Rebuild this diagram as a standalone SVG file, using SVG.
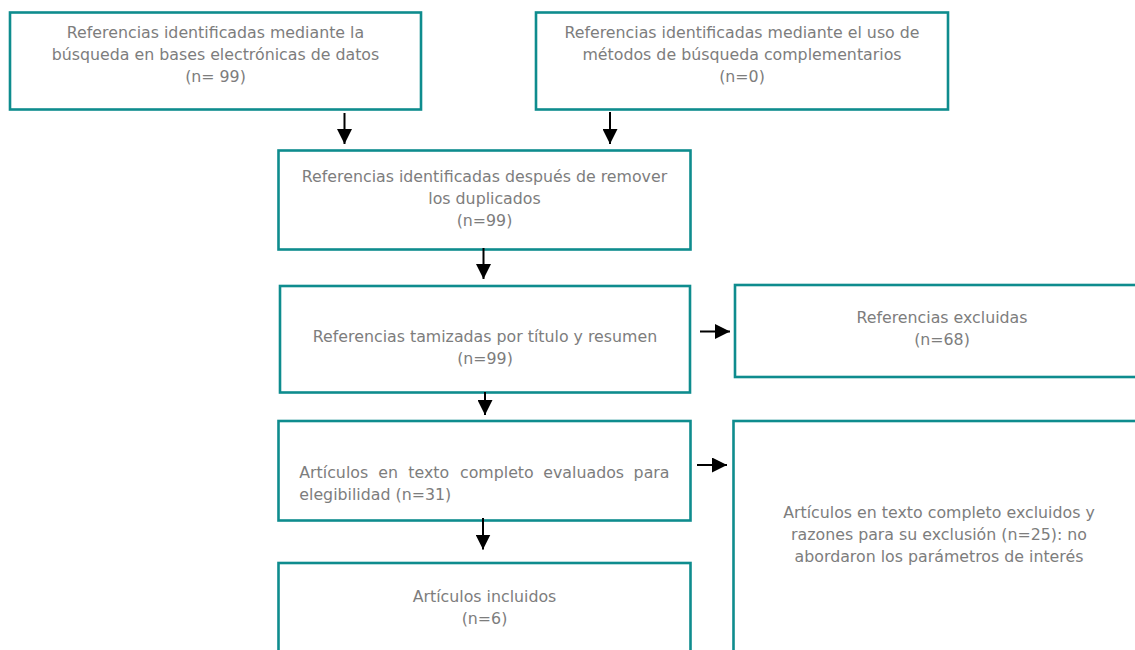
<svg xmlns="http://www.w3.org/2000/svg" width="1135" height="650" viewBox="0 0 1135 650">
<style>
.box{fill:#fff;stroke:#0e8c8e;stroke-width:2.6}
.t{font-family:"DejaVu Sans",Verdana,sans-serif;font-size:15.8px;fill:#7d7d7d;text-anchor:middle}
.j{text-anchor:start}
.conn line{stroke:#000;stroke-width:2}
</style>
<defs>
<marker id="ahb" viewBox="0 0 10 10" refX="10" refY="5" markerWidth="15" markerHeight="15" markerUnits="userSpaceOnUse" orient="auto">
<path d="M0,0 L10,5 L0,10 Z" fill="#000"/>
</marker>
</defs>
<rect width="1135" height="650" fill="#fff"/>
<g id="n1">
<rect class="box" x="10" y="12.5" width="411" height="97"/>
<text class="t" x="215.5" y="38">Referencias identificadas mediante la</text>
<text class="t" x="215.5" y="60">búsqueda en bases electrónicas de datos</text>
<text class="t" x="215.5" y="82">(n= 99)</text>
</g>
<g id="n2">
<rect class="box" x="536" y="12.5" width="412" height="97"/>
<text class="t" x="742" y="38">Referencias identificadas mediante el uso de</text>
<text class="t" x="742" y="60">métodos de búsqueda complementarios</text>
<text class="t" x="742" y="82">(n=0)</text>
</g>
<g id="n3">
<rect class="box" x="278.5" y="150.5" width="412" height="99"/>
<text class="t" x="484.5" y="182">Referencias identificadas después de remover</text>
<text class="t" x="484.5" y="204">los duplicados</text>
<text class="t" x="484.5" y="226">(n=99)</text>
</g>
<g id="n4">
<rect class="box" x="280" y="286" width="410" height="106.5"/>
<text class="t" x="485" y="342">Referencias tamizadas por título y resumen</text>
<text class="t" x="485" y="364">(n=99)</text>
</g>
<g id="n5">
<rect class="box" x="735" y="285" width="410" height="92"/>
<text class="t" x="942" y="323">Referencias excluidas</text>
<text class="t" x="942" y="345">(n=68)</text>
</g>
<g id="n6">
<rect class="box" x="278.5" y="421" width="412" height="99.5"/>
<text class="t j" y="478"><tspan x="299.3">Artículos</tspan><tspan x="378.3">en</tspan><tspan x="408.3">texto</tspan><tspan x="460">completo</tspan><tspan x="543.3">evaluados</tspan></text>
<text class="t" x="669.5" y="478" style="text-anchor:end">para</text>
<text class="t j" x="299.3" y="500">elegibilidad (n=31)</text>
</g>
<g id="n7">
<rect class="box" x="278.5" y="563" width="412" height="100"/>
<text class="t" x="484.5" y="602">Artículos incluidos</text>
<text class="t" x="484.5" y="624">(n=6)</text>
</g>
<g id="n8">
<rect class="box" x="733.5" y="421" width="412" height="240"/>
<text class="t" x="939" y="518">Artículos en texto completo excluidos y</text>
<text class="t" x="939" y="540">razones para su exclusión (n=25): no</text>
<text class="t" x="939" y="562">abordaron los parámetros de interés</text>
</g>
<g class="conn">
<line x1="344.5" y1="113" x2="344.5" y2="144" marker-end="url(#ahb)"/>
<line x1="610" y1="112" x2="610" y2="144" marker-end="url(#ahb)"/>
<line x1="483.5" y1="248" x2="483.5" y2="279" marker-end="url(#ahb)"/>
<line x1="485" y1="392" x2="485" y2="415" marker-end="url(#ahb)"/>
<line x1="700" y1="331.5" x2="730" y2="331.5" marker-end="url(#ahb)"/>
<line x1="697" y1="465" x2="727" y2="465" marker-end="url(#ahb)"/>
<line x1="483" y1="518" x2="483" y2="549.5" marker-end="url(#ahb)"/>
</g>
</svg>
